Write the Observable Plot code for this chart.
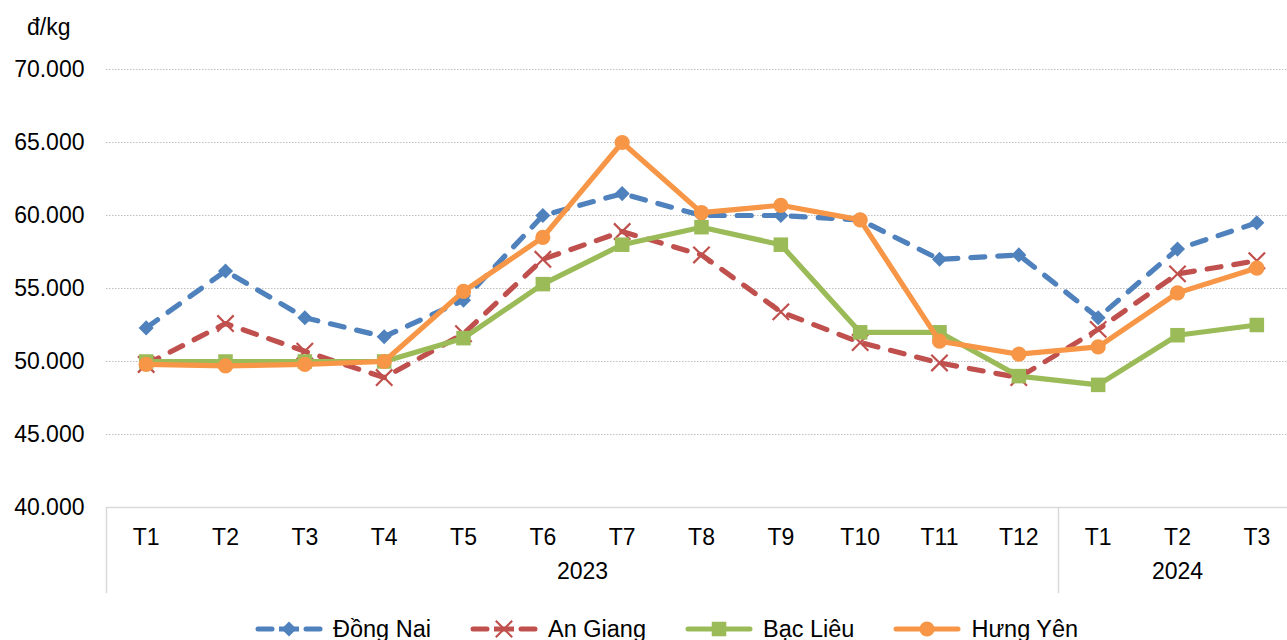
<!DOCTYPE html>
<html>
<head>
<meta charset="utf-8">
<script src="https://cdn.jsdelivr.net/npm/d3@7"></script>
<script src="https://cdn.jsdelivr.net/npm/@observablehq/plot@0.6"></script>
<style>
  html, body { margin: 0; padding: 0; background: #fff; overflow: hidden; }
  body { width: 1287px; height: 640px; position: relative; font-family: "Liberation Sans", Arial, sans-serif; }
  #unit { position: absolute; left: 27px; top: 13px; font-size: 23px; line-height: 28px; color: #000; }
  #chart { position: absolute; left: 0; top: 0; }
  #legend { position: absolute; left: 255px; top: 614px; display: flex; align-items: center; font-size: 23.5px; line-height: 30px; color: #000; white-space: nowrap; }
  .item { display: flex; align-items: center; margin-right: 39px; }
  .item svg { margin-right: 10px; }
</style>
</head>
<body>
<div id="unit">đ/kg</div>
<div id="chart"></div>
<div id="legend"></div>
<script>
// ---- data ----
const months = ["T1","T2","T3","T4","T5","T6","T7","T8","T9","T10","T11","T12","T1","T2","T3"];
const years = ["2023", "2024"];
const yearMonthCounts = [12, 3];
const yTicks = [40000, 45000, 50000, 55000, 60000, 65000, 70000];

const seriesNames = ["Đồng Nai", "An Giang", "Bạc Liêu", "Hưng Yên"];
const dongNai = [52300, 56200, 53000, 51700, 54200, 60000, 61500, 60000, 60000, 59700, 57000, 57300, 53000, 57700, 59500];
const anGiang = [49800, 52600, 50700, 48900, 51900, 57000, 58900, 57300, 53400, 51300, 49900, 48900, 52200, 56000, 56900];
const bacLieu = [50000, 50000, 50000, 50000, 51600, 55300, 58000, 59200, 58000, 52000, 52000, 49000, 48400, 51800, 52500];
const hungYen = [49800, 49700, 49800, 50000, 54800, 58500, 65000, 60200, 60700, 59700, 51400, 50500, 51000, 54700, 56400];

// ---- derived tables ----
const seriesValues = [dongNai, anGiang, bacLieu, hungYen];
const styles = [
  {color: "#4F81BD", dash: "14,13", symbol: "diamond2", r: 6.8},
  {color: "#C0504D", dash: "14,13", symbol: "times", r: 7.5},
  {color: "#9BBB59", dash: null, symbol: "square", r: 8.2},
  {color: "#F79646", dash: null, symbol: "circle", r: 7.6}
];
const tables = seriesValues.map((vals, s) => vals.map((v, i) => ({i, v, s: seriesNames[s]})));

let start = 0;
const yearData = years.map((y, k) => {
  const n = yearMonthCounts[k];
  const d = {year: y, center: start + (n - 1) / 2, left: start - 0.5};
  start += n;
  return d;
});

const fmt = d3.formatLocale({decimal: ",", thousands: ".", grouping: [3], currency: ["", ""]}).format(",");

const marks = [
  Plot.gridY(yTicks.filter(t => t > 40000), {stroke: "#bfbfbf", strokeOpacity: 1, strokeDasharray: "1.5,1.5"}),
  Plot.ruleY([40000], {stroke: "#d9d9d9", strokeWidth: 1.5}),
  Plot.ruleX(yearData, {x: "left", y1: 40000, y2: 34100, stroke: "#d9d9d9", strokeWidth: 1.5}),
  Plot.axisY({ticks: yTicks, tickSize: 0, tickPadding: 22, tickFormat: fmt, label: null, fontSize: 23}),
  Plot.axisX({ticks: d3.range(months.length), tickSize: 0, tickPadding: 21, tickFormat: i => months[i], label: null, fontSize: 23}),
  Plot.text(yearData, {x: "center", text: "year", frameAnchor: "bottom", dy: 71, fontSize: 23, fill: "#000"})
];
tables.forEach((t, s) => {
  const st = styles[s];
  marks.push(Plot.line(t, {x: "i", y: "v", stroke: st.color, strokeWidth: 5.2, strokeDasharray: st.dash, strokeLinecap: "round", strokeLinejoin: "round"}));
  if (st.symbol === "times") {
    marks.push(Plot.dot(t, {x: "i", y: "v", symbol: "times", r: st.r, stroke: st.color, strokeWidth: 2.2}));
  } else {
    marks.push(Plot.dot(t, {x: "i", y: "v", symbol: st.symbol, r: st.r, fill: st.color, stroke: "none"}));
  }
});

const chart = Plot.plot({
  width: 1287,
  height: 600,
  marginTop: 69,
  marginBottom: 93,
  marginLeft: 106,
  marginRight: 0,
  clip: false,
  style: {fontFamily: "'Liberation Sans', Arial, sans-serif", fontSize: "23px", color: "#000", background: "transparent", overflow: "visible"},
  x: {type: "linear", domain: [-0.5, 14.5], range: [106, 1296]},
  y: {type: "linear", domain: [40000, 70000]},
  marks
});
chart.style.maxWidth = "none";
document.getElementById("chart").appendChild(chart);

// ---- legend ----
const legend = d3.select("#legend");
seriesNames.forEach((name, s) => {
  const st = styles[s];
  const item = legend.append("div").attr("class", "item");
  const svg = item.append("svg").attr("width", 68).attr("height", 20);
  if (st.dash) {
    svg.append("line").attr("x1", 3).attr("x2", 17).attr("y1", 10).attr("y2", 10)
      .attr("stroke", st.color).attr("stroke-width", 5).attr("stroke-linecap", "round");
    svg.append("line").attr("x1", 51).attr("x2", 65).attr("y1", 10).attr("y2", 10)
      .attr("stroke", st.color).attr("stroke-width", 5).attr("stroke-linecap", "round");
    svg.append("line").attr("x1", 24).attr("x2", 44).attr("y1", 10).attr("y2", 10)
      .attr("stroke", st.color).attr("stroke-width", 5);
  } else {
    svg.append("line").attr("x1", 3).attr("x2", 65).attr("y1", 10).attr("y2", 10)
      .attr("stroke", st.color).attr("stroke-width", 5).attr("stroke-linecap", "round");
  }
  const symMap = {diamond2: d3.symbolDiamond2, times: d3.symbolTimes, square: d3.symbolSquare, circle: d3.symbolCircle};
  const path = d3.symbol(symMap[st.symbol], Math.PI * st.r * st.r)();
  const p = svg.append("path").attr("d", path).attr("transform", "translate(34,10)");
  if (st.symbol === "times") p.attr("fill", "none").attr("stroke", st.color).attr("stroke-width", 2.2);
  else p.attr("fill", st.color);
  item.append("span").text(name);
});
</script>
</body>
</html>
